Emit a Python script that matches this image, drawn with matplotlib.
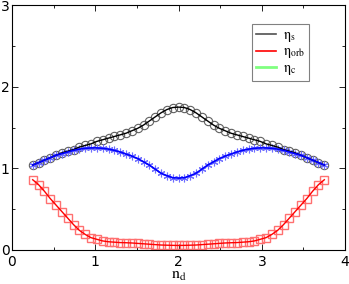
import matplotlib
matplotlib.use("Agg")
import matplotlib.pyplot as plt
from matplotlib.ticker import MultipleLocator

plt.rcParams["mathtext.fontset"] = "stix"

# n_d grid, 51 points from 0.25 to 3.75
nd = [0.25, 0.32, 0.39, 0.46, 0.53, 0.60, 0.67, 0.74, 0.81, 0.88,
      0.95, 1.02, 1.09, 1.16, 1.23, 1.30, 1.37, 1.44, 1.51, 1.58,
      1.65, 1.72, 1.79, 1.86, 1.93, 2.00, 2.07, 2.14, 2.21, 2.28,
      2.35, 2.42, 2.49, 2.56, 2.63, 2.70, 2.77, 2.84, 2.91, 2.98,
      3.05, 3.12, 3.19, 3.26, 3.33, 3.40, 3.47, 3.54, 3.61, 3.68, 3.75]

eta_s = [1.04, 1.07, 1.10, 1.13, 1.16, 1.19, 1.21, 1.23, 1.26, 1.28,
         1.30, 1.33, 1.35, 1.37, 1.39, 1.41, 1.43, 1.46, 1.49, 1.53,
         1.58, 1.63, 1.68, 1.72, 1.745, 1.75, 1.745, 1.72, 1.68, 1.63,
         1.58, 1.53, 1.49, 1.46, 1.43, 1.41, 1.39, 1.37, 1.35, 1.33,
         1.30, 1.28, 1.26, 1.23, 1.21, 1.19, 1.16, 1.13, 1.10, 1.07, 1.04]

eta_c = [1.04, 1.07, 1.10, 1.13, 1.16, 1.18, 1.20, 1.22, 1.235, 1.245,
         1.25, 1.25, 1.245, 1.235, 1.22, 1.20, 1.175, 1.15, 1.12, 1.08,
         1.04, 0.99, 0.94, 0.91, 0.885, 0.88, 0.885, 0.91, 0.94, 0.99,
         1.04, 1.08, 1.12, 1.15, 1.175, 1.20, 1.22, 1.235, 1.245, 1.25,
         1.25, 1.245, 1.235, 1.22, 1.20, 1.18, 1.16, 1.13, 1.10, 1.07, 1.04]

eta_orb = [0.86, 0.80, 0.72, 0.63, 0.55, 0.47, 0.39, 0.31, 0.24, 0.19,
           0.15, 0.13, 0.11, 0.10, 0.095, 0.09, 0.088, 0.085, 0.08, 0.075,
           0.07, 0.065, 0.06, 0.058, 0.056, 0.055, 0.056, 0.058, 0.06, 0.065,
           0.07, 0.075, 0.08, 0.085, 0.088, 0.09, 0.095, 0.10, 0.11, 0.13,
           0.15, 0.19, 0.24, 0.31, 0.39, 0.47, 0.55, 0.63, 0.72, 0.80, 0.86]

fig = plt.figure(figsize=(3.49, 2.84), dpi=100)
ax = fig.add_axes([0.034, 0.12, 0.955, 0.862])

# markers first, lines on top
ax.plot(nd, eta_s, linestyle="none", marker="o", markersize=6,
        markerfacecolor="none", markeredgecolor="#606060", markeredgewidth=0.8)
ax.plot(nd, eta_orb, linestyle="none", marker="s", markersize=5.5,
        markerfacecolor="none", markeredgecolor="#ff7070", markeredgewidth=1.0)
ax.plot(nd, eta_c, linestyle="none", marker=(6, 2, 0), markersize=5.5,
        markeredgecolor="#7070ff", markeredgewidth=0.8)

ax.plot(nd, eta_s, color="black", lw=1.0)
ax.plot(nd, eta_orb, color="red", lw=1.0)
ax.plot(nd, eta_c, color="#0000ff", lw=1.2)

# legend entries (lines only)
l1, = ax.plot([], [], color="#505050", lw=1.2)
l2, = ax.plot([], [], color="red", lw=1.2)
l3, = ax.plot([], [], color="#80ff80", lw=2)
labels = [r"$\mathrm{\eta}_{\mathrm{s}}$", r"$\mathrm{\eta}_{\mathrm{orb}}$",
          r"$\mathrm{\eta}_{\mathrm{c}}$"]
leg = ax.legend([l1, l2, l3], labels,
                loc="upper left", bbox_to_anchor=(0.70, 0.95), fancybox=False,
                framealpha=1, edgecolor="#808080", fontsize=10, handlelength=1.5,
                handletextpad=0.5, borderpad=0.25, labelspacing=0.05)
leg.get_frame().set_linewidth(0.8)

ax.set_xlim(0, 4)
ax.set_ylim(0, 3)
ax.xaxis.set_major_locator(MultipleLocator(1))
ax.yaxis.set_major_locator(MultipleLocator(1))
ax.xaxis.set_minor_locator(MultipleLocator(0.5))
ax.yaxis.set_minor_locator(MultipleLocator(0.5))
ax.tick_params(which="both", direction="in", top=True, right=True, labelsize=10)
ax.tick_params(axis="x", pad=3.5)
ax.tick_params(axis="y", pad=1.5)
ax.tick_params(which="major", length=4, width=0.6)
ax.tick_params(which="minor", length=2, width=0.6)
for s in ax.spines.values():
    s.set_linewidth(0.8)

ax.set_xlabel(r"$\mathrm{n_d}$", fontsize=11.5, labelpad=-0.5)

fig.savefig("out.png", dpi=100)
